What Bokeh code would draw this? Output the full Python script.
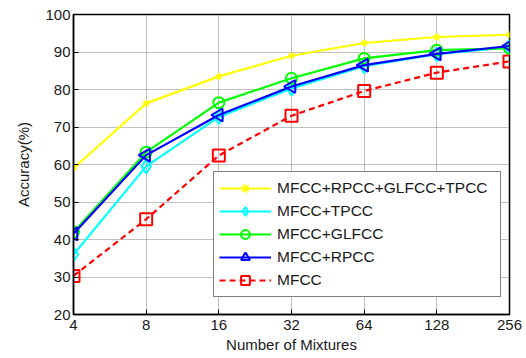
import numpy as np
from bokeh.plotting import figure
from bokeh.models import FixedTicker, NumeralTickFormatter, Legend, LegendItem, Range1d
from bokeh.embed import file_html
from bokeh.resources import INLINE

mixtures = [4, 8, 16, 32, 64, 128, 256]
all_feat = [59.0, 76.3, 83.5, 89.0, 92.4, 94.0, 94.6]
tpcc = [36.0, 59.5, 72.7, 80.3, 86.2, 89.4, 91.3]
glfcc = [42.0, 63.3, 76.5, 83.0, 88.3, 90.5, 91.0]
rpcc = [41.5, 62.5, 73.2, 80.8, 86.5, 89.5, 91.6]
mfcc = [30.3, 45.4, 62.4, 73.0, 79.6, 84.5, 87.5]
yticks = [20, 30, 40, 50, 60, 70, 80, 90, 100]

FONT = "Liberation Sans"
TXT = "#1a1a1a"

p = figure(x_axis_type="log", x_range=Range1d(4, 256), y_range=Range1d(20, 100),
           output_backend="svg", toolbar_location=None, frame_width=436, frame_height=300,
           min_border_left=73, min_border_top=14, min_border_right=16, min_border_bottom=10)

p.outline_line_color = "black"
p.outline_line_width = 1.5
p.background_fill_color = "white"

xax = p.below[0]
yax = p.left[0]
for ax in [xax, yax]:
    ax.axis_line_color = "black"
    ax.axis_line_width = 1.5
    ax.major_tick_in = 5
    ax.major_tick_out = 0
    ax.minor_tick_line_color = None
    ax.major_label_text_font = FONT
    ax.major_label_text_font_size = "15px"
    ax.major_label_text_color = TXT
    ax.axis_label_text_font = FONT
    ax.axis_label_text_font_size = "15px"
    ax.axis_label_text_font_style = "normal"
    ax.axis_label_text_color = TXT

xax.ticker = FixedTicker(ticks=mixtures)
xax.formatter = NumeralTickFormatter(format="0")
yax.ticker = FixedTicker(ticks=yticks)
xax.axis_label = "Number of Mixtures"
yax.axis_label = "Accuracy(%)"
xax.axis_label_standoff = 3
yax.axis_label_standoff = 10
xax.major_label_standoff = 5
yax.major_label_standoff = 3

p.xgrid.ticker = FixedTicker(ticks=mixtures)
p.ygrid.ticker = FixedTicker(ticks=yticks)
for g in [p.xgrid[0], p.ygrid[0]]:
    g.grid_line_color = "#808080"
    g.grid_line_dash = "1 1"
    g.grid_line_width = 1

def series(y, color, marker, size, label, dash="solid", angle=0.0, mlw=2):
    l = p.line(mixtures, y, line_color=color, line_width=2.2, line_dash=dash)
    s = p.scatter(mixtures, y, marker=marker, size=size, line_color=color, fill_color=None,
                  line_width=mlw, angle=angle)
    return LegendItem(label=label, renderers=[l, s])

it_red = series(mfcc, "#ff0000", "square", 12, "MFCC", dash="6 4")
it_cyan = series(tpcc, "#00ffff", "diamond", 14, "MFCC+TPCC")
it_green = series(glfcc, "#00ff00", "circle", 11, "MFCC+GLFCC")
it_blue = series(rpcc, "#0000ff", "triangle", 13, "MFCC+RPCC", angle=np.pi / 2)
it_yel = series(all_feat, "#ffff00", "asterisk", 7, "MFCC+RPCC+GLFCC+TPCC", mlw=1.5)

legend = Legend(items=[it_yel, it_cyan, it_green, it_blue, it_red], location=(140, 17))
legend.label_text_font = FONT
legend.label_text_font_size = "15.5px"
legend.label_text_color = TXT
legend.glyph_width = 52
legend.glyph_height = 22
legend.label_height = 22
legend.label_width = 218
legend.label_standoff = 6
legend.spacing = 1
legend.padding = 5
legend.margin = 0
legend.border_line_color = "black"
legend.border_line_width = 1.5
legend.background_fill_alpha = 1
p.add_layout(legend)

open("out.html", "w").write(file_html(p, INLINE))
